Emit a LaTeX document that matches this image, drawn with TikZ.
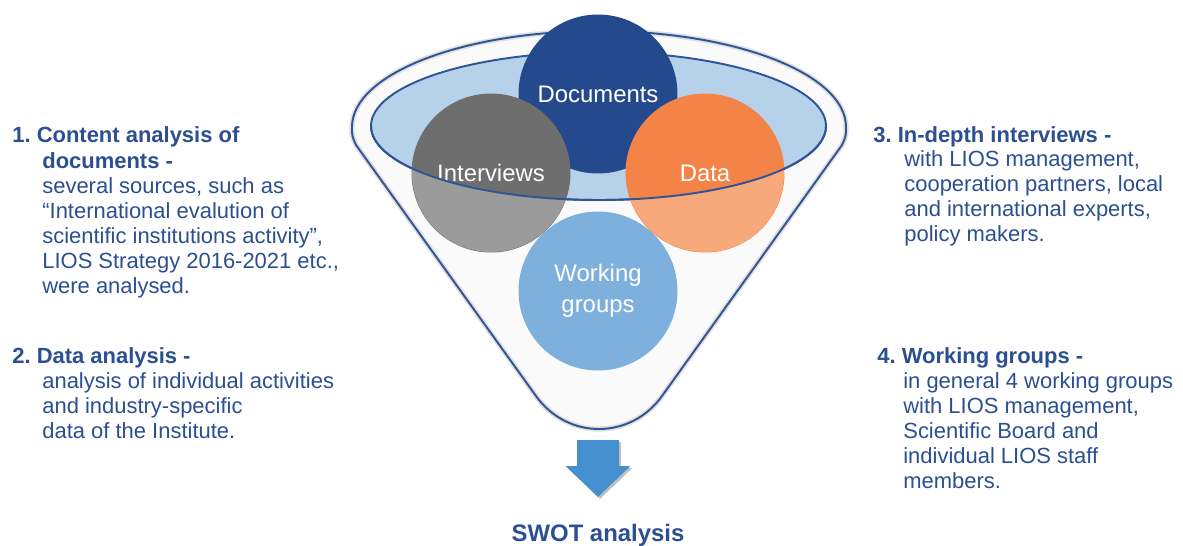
\documentclass[tikz,border=0pt]{standalone}
\usepackage{fontspec}
\setmainfont{Liberation Sans}
\usetikzlibrary{positioning,arrows.meta}

\definecolor{textblue}{HTML}{2B4F91}
\definecolor{rimblue}{HTML}{2F5597}
\definecolor{bowlblue}{HTML}{B5D2EA}
\definecolor{docblue}{HTML}{244A8D}
\definecolor{intgrey}{HTML}{6E6E6E}
\definecolor{intgreylt}{HTML}{9B9B9B}
\definecolor{dataorange}{HTML}{F38346}
\definecolor{dataorangelt}{HTML}{F7A97C}
\definecolor{wgblue}{HTML}{7DB0DC}
\definecolor{arrowblue}{HTML}{4591CF}

% outline of the funnel (top rim, two sides, round bottom)
\newcommand{\funnelpath}{(352,127) arc[start angle=180, end angle=360, x radius=247, y radius=96]
  .. controls (846,136) .. (842,145) -- (662,396)
  .. controls (630.5,440) and (567.5,440) .. (536,396)
  -- (356,145) .. controls (352,136) .. (352,127) -- cycle}

\begin{document}
\frenchspacing
\begin{tikzpicture}[
    x=0.02cm, y=-0.02cm, % one unit = one pixel of the original
    bubble/.style={circle, minimum size=3.18cm, inner sep=0pt, text=white,
      font=\fontsize{13.6}{17}\selectfont, align=center},
    head/.style={anchor=base west, inner sep=0pt, text=textblue,
      font=\bfseries\fontsize{12.5}{14.2}\selectfont},
    body/.style={anchor=north west, inner sep=0pt, text=textblue, align=left,
      font=\fontsize{12.5}{14.2}\selectfont},
    rim/.style={draw=rimblue, line width=1.1pt}
  ]
  \useasboundingbox (0,0) rectangle (1183,545);

  % funnel body
  \fill[black!2] \funnelpath;
  \draw[rim, preaction={draw=black!12, line width=3pt}] \funnelpath;

  % top of the funnel
  \draw[rim, fill=bowlblue] (598.5,126) ellipse [x radius=227.5, y radius=74];

  % the four sources
  \node[bubble, fill=docblue] (docs) at (598,94) {Documents};
  \node[bubble, fill=intgrey] (intv) at (491,173) {Interviews};
  \node[bubble, fill=dataorange] (data) at (705,173) {Data};

  % lower parts seen through the funnel wall
  \begin{scope}
    \clip (371,126) arc[start angle=180, end angle=0, x radius=227.5, y radius=74]
      -- (826,300) -- (371,300) -- cycle;
    \fill[intgreylt] (intv.center) circle[radius=79];
    \fill[dataorangelt] (data.center) circle[radius=79];
  \end{scope}
  \draw[rim] (371,126) arc[start angle=180, end angle=0, x radius=227.5, y radius=74];

  \node[bubble, fill=wgblue] (wgrp) at (598,291) {Working\\[1pt]groups};

  % output arrow
  \coordinate (out) at (598,440);
  \coordinate (tip) at (598,497);
  \draw[line width=0.84cm, black!25, -{Triangle[width=1.26cm, length=0.62cm]}]
    ([shift={(2,2)}]out) -- ([shift={(2,2)}]tip);
  \draw[line width=0.84cm, arrowblue, -{Triangle[width=1.26cm, length=0.62cm]}] (out) -- (tip);
  \node[head, anchor=base, font=\bfseries\fontsize{13.6}{16}\selectfont] (swot) at (598,541) {SWOT analysis};

  % left column
  \node[head] (h1) at (12,142) {1. Content analysis of};
  \node[body] (b1) at (42,152) {\textbf{documents -}\\several sources, such as\\
    ``International evalution of\\scientific institutions activity'',\\
    LIOS Strategy 2016-2021 etc.,\\were analysed.};
  \node[head] (h2) at (12,363) {2. Data analysis -};
  \node[body] (b2) at (42,372) {analysis of individual activities\\
    and industry-specific\\data of the Institute.};

  % right column
  \node[head] (h3) at (873,142) {3. In-depth interviews -};
  \node[body] (b3) at (904,150) {with LIOS management,\\
    cooperation partners, local\\and international experts,\\policy makers.};
  \node[head] (h4) at (877,363) {4. Working groups -};
  \node[body] (b4) at (903,372) {in general 4 working groups\\
    with LIOS management,\\Scientific Board and\\individual LIOS staff\\members.};
\end{tikzpicture}
\end{document}
